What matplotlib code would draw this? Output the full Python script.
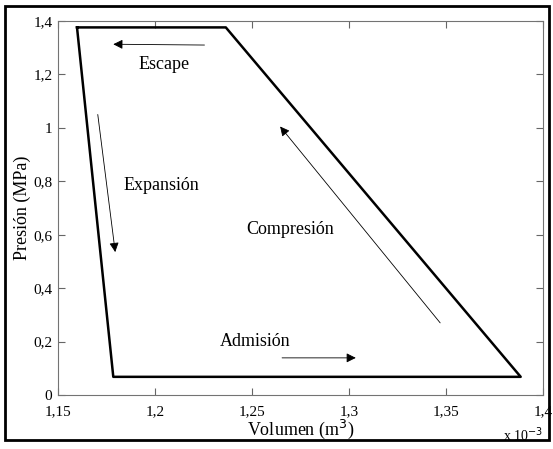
import matplotlib.pyplot as plt
import matplotlib.ticker as mticker
from matplotlib.patches import Rectangle

plt.rcParams['font.family'] = ['Liberation Serif', 'DejaVu Serif']

# ciclo (volumen en 1e-3 m3, presion en MPa)
vol = [1.1598, 1.2365, 1.3885, 1.1785, 1.1598]
pres = [1.376, 1.376, 0.068, 0.068, 1.376]

# flechas: (inicio, fin)
arrows = [
    ((1.2255, 1.31), (1.1785, 1.313)),
    ((1.1705, 1.05), (1.1795, 0.535)),
    ((1.347, 0.27), (1.2645, 1.005)),
    ((1.2655, 0.139), (1.3035, 0.139)),
]
labels = [("Escape", 1.2045, 1.236), ("Expansión", 1.2031, 0.783),
          ("Compresión", 1.2695, 0.618), ("Admisión", 1.2515, 0.2)]

fig = plt.figure(figsize=(5.53, 4.49), dpi=100)
ax = fig.add_axes([58/553, 1 - 395/449, 485/553, 374/449])
ax.plot(vol, pres, color='k', lw=1.8)

for (x0, y0), (x1, y1) in arrows:
    ax.annotate("", xy=(x1, y1), xytext=(x0, y0),
                arrowprops=dict(arrowstyle='-|>', color='k', lw=0.6,
                                mutation_scale=14, shrinkA=0, shrinkB=0))
for t, x, y in labels:
    ax.text(x, y, t, ha='center', va='center', fontsize=13)

ax.set_xlim(1.15, 1.4)
ax.set_ylim(0, 1.4)
ax.set_xticks([1.15, 1.2, 1.25, 1.3, 1.35, 1.4])
ax.set_yticks([0, 0.2, 0.4, 0.6, 0.8, 1.0, 1.2, 1.4])
fmt = mticker.FuncFormatter(lambda v, p: ('%g' % round(v, 3)).replace('.', ','))
ax.xaxis.set_major_formatter(fmt)
ax.yaxis.set_major_formatter(fmt)
ax.tick_params(direction='in', top=True, right=True, labelsize=11, length=5,
               color='0.4')
ax.tick_params(axis='x', pad=7)
ax.tick_params(axis='y', pad=4)
for s in ax.spines.values():
    s.set_color('0.45')
ax.set_xlabel("Volumen (m$^3$)", fontsize=13, labelpad=0)
ax.set_ylabel("Presión (MPa)", fontsize=13, labelpad=2)
ax.text(1.0, -0.105, r"x 10$^{-3}$", transform=ax.transAxes, ha='right',
        va='center', fontsize=10)

fig.patches.append(Rectangle((5/553, 9/449), 544/553, 434/449, transform=fig.transFigure,
                             fill=False, ec='k', lw=2))
fig.savefig("out.png", dpi=100)
